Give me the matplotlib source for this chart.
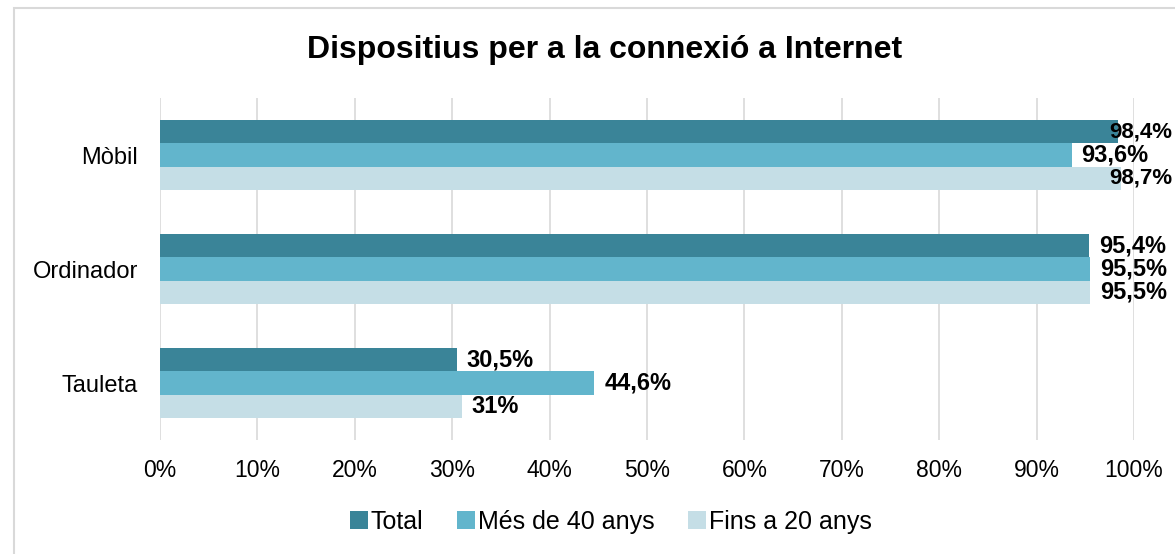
import matplotlib
matplotlib.use("Agg")
import matplotlib.pyplot as plt
from matplotlib.patches import Rectangle
import numpy as np

categories = ["Mòbil", "Ordinador", "Tauleta"]
series_names = ["Total", "Més de 40 anys", "Fins a 20 anys"]
total = [98.4, 95.4, 30.5]
mes_40 = [93.6, 95.5, 44.6]
fins_20 = [98.7, 95.5, 31.0]
labels_total = ["98,4%", "95,4%", "30,5%"]
labels_mes40 = ["93,6%", "95,5%", "44,6%"]
labels_fins20 = ["98,7%", "95,5%", "31%"]
xticks = [0, 10, 20, 30, 40, 50, 60, 70, 80, 90, 100]
xtick_labels = ["0%", "10%", "20%", "30%", "40%", "50%", "60%", "70%", "80%", "90%", "100%"]

colors = ["#3A8498", "#62B5CC", "#C5DEE6"]

plt.rcParams['font.family'] = ['Liberation Sans', 'DejaVu Sans']

fig = plt.figure(figsize=(11.75, 5.54), dpi=100)
ax = fig.add_axes([160/1175, 1-440/554, 974/1175, 342/554])

# border of chart area
fig.patches.append(Rectangle((14/1175, -0.05), 1.2, 1-8/554+0.05, transform=fig.transFigure,
                             fill=False, edgecolor="#D9D9D9", linewidth=1.5, zorder=0))

n = len(categories)
y = np.arange(n)  # 0 top
bh = 0.205
series = [total, mes_40, fins_20]
labels = [labels_total, labels_mes40, labels_fins20]
limit = 97.5
for i, (vals, labs) in enumerate(zip(series, labels)):
    pos = y + (i - 1) * bh
    ax.barh(pos, vals, height=bh, color=colors[i], label=series_names[i], zorder=3)
    for p, v, l in zip(pos, vals, labs):
        near_edge = v + 1.0 > limit
        ax.text(min(v + 1.0, limit), p, l, ha="left", va="center",
                fontsize=16 if near_edge else 17,
                fontweight="bold", color="#000000", clip_on=False, zorder=4)

ax.set_ylim(n - 0.5, -0.5)
ax.set_xlim(0, 100)
ax.set_xticks(xticks)
ax.set_xticklabels(xtick_labels, fontsize=16.5, color="#000000")
ax.set_yticks(y)
ax.set_yticklabels(categories, fontsize=17, color="#000000")
ax.tick_params(axis="x", length=0, pad=14)
ax.tick_params(axis="y", length=0, pad=16)
ax.grid(axis="x", color="#D9D9D9", linewidth=1.2, zorder=0)
ax.set_axisbelow(True)
for s in ax.spines.values():
    s.set_visible(False)

fig.text(605/1175, 1-50/554, "Dispositius per a la connexió a Internet", ha="center", va="center",
         fontsize=23, fontweight="bold", color="#000000")

leg = fig.legend(loc="center", bbox_to_anchor=(611/1175, 1-522/554), ncol=3, frameon=False,
                 fontsize=18, handlelength=0.72, handleheight=0.72, handletextpad=0.12,
                 columnspacing=1.35, borderpad=0)

fig.savefig("out.png", dpi=100)
